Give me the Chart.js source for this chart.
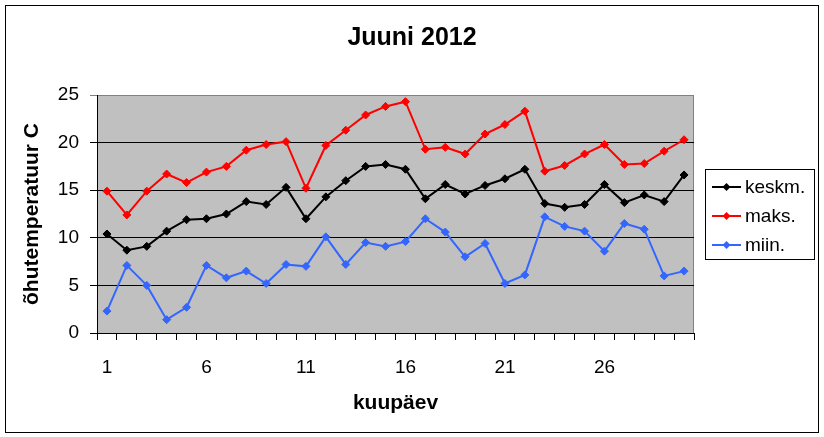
<!DOCTYPE html>
<html>
<head>
<meta charset="utf-8">
<script src="https://cdn.jsdelivr.net/npm/chart.js@4/dist/chart.umd.min.js"></script>
<style>
  body { margin: 0; background: #fff; }
</style>
</head>
<body>
<canvas id="chart" width="824" height="437"></canvas>
<script>
const days = [];
for (let d = 1; d <= 30; d++) days.push(String(d));

const keskm = [10.4, 8.7, 9.1, 10.7, 11.9, 12.0, 12.5, 13.8, 13.5, 15.3, 12.0, 14.3, 16.0, 17.5, 17.7,
  17.2, 14.1, 15.6, 14.6, 15.5, 16.2, 17.2, 13.6, 13.2, 13.5, 15.6, 13.7, 14.5, 13.8, 16.6];
const maks = [14.9, 12.4, 14.9, 16.7, 15.8, 16.9, 17.5, 19.2, 19.8, 20.1, 15.2, 19.7, 21.3, 22.9, 23.8,
  24.3, 19.3, 19.5, 18.8, 20.9, 21.9, 23.3, 17.0, 17.6, 18.8, 19.8, 17.7, 17.8, 19.1, 20.3];
const miin = [2.3, 7.1, 5.0, 1.4, 2.7, 7.1, 5.8, 6.5, 5.2, 7.2, 7.0, 10.1, 7.2, 9.5, 9.1,
  9.6, 12.0, 10.6, 8.0, 9.4, 5.2, 6.1, 12.2, 11.2, 10.7, 8.6, 11.5, 10.9, 6.0, 6.5];

const FONT = "'Liberation Sans', Arial, sans-serif";

function series(label, values, color) {
  return {
    label: label,
    data: values,
    borderColor: color,
    backgroundColor: color,
    borderWidth: 2,
    pointStyle: "rectRot",
    pointRadius: 4,
    pointBorderWidth: 1,
    tension: 0,
  };
}

// grey plot area + frame around the whole picture
const background = {
  id: "background",
  beforeDraw(chart) {
    const ctx = chart.ctx;
    const a = chart.chartArea;
    ctx.save();
    ctx.fillStyle = "#fff";
    ctx.fillRect(0, 0, chart.width, chart.height);
    ctx.strokeStyle = "#000";
    ctx.lineWidth = 1;
    ctx.strokeRect(5.5, 5.5, 813, 427);
    ctx.fillStyle = "#c0c0c0";
    ctx.fillRect(a.left, a.top, a.right - a.left, a.bottom - a.top);
    ctx.strokeStyle = "#808080";
    ctx.strokeRect(a.left + 0.5, a.top + 0.5, a.right - a.left - 1, a.bottom - a.top);
    ctx.restore();
  },
};

// boxed legend like the old spreadsheet one
const boxLegend = {
  id: "boxLegend",
  afterDraw(chart) {
    const ctx = chart.ctx;
    ctx.save();
    ctx.fillStyle = "#fff";
    ctx.fillRect(705, 169, 109, 90);
    ctx.strokeStyle = "#000";
    ctx.lineWidth = 1;
    ctx.strokeRect(705.5, 169.5, 109, 90);
    ctx.font = "19px " + FONT;
    ctx.textBaseline = "middle";
    chart.data.datasets.forEach(function (ds, i) {
      const y = 187 + i * 29;
      ctx.strokeStyle = ds.borderColor;
      ctx.lineWidth = 2;
      ctx.beginPath();
      ctx.moveTo(712, y);
      ctx.lineTo(741, y);
      ctx.stroke();
      ctx.fillStyle = ds.borderColor;
      ctx.beginPath();
      ctx.moveTo(726.5, y - 4);
      ctx.lineTo(730.5, y);
      ctx.lineTo(726.5, y + 4);
      ctx.lineTo(722.5, y);
      ctx.closePath();
      ctx.fill();
      ctx.fillStyle = "#000";
      ctx.fillText(ds.label, 745, y + 1);
    });
    ctx.restore();
  },
};

const config = {
  type: "line",
  data: {
    labels: days,
    datasets: [
      series("keskm.", keskm, "#000000"),
      series("maks.", maks, "#ff0000"),
      series("miin.", miin, "#3366ff"),
    ],
  },
  options: {
    responsive: false,
    animation: false,
    devicePixelRatio: 1,
    layout: { padding: 0 },
    plugins: {
      legend: { display: false },
      tooltip: { enabled: false },
      title: {
        display: true,
        text: "Juuni 2012",
        color: "#000",
        font: { family: FONT, size: 25, weight: "bold" },
        padding: { top: 23, bottom: 42 },
      },
    },
    scales: {
      x: {
        type: "category",
        offset: true,
        grid: {
          offset: true,
          drawOnChartArea: false,
          tickLength: 7,
          color: "#000",
        },
        border: { color: "#000" },
        ticks: {
          autoSkip: false,
          maxRotation: 0,
          padding: 16,
          color: "#000",
          font: { family: FONT, size: 19 },
          callback: function (value, index) {
            return index % 5 === 0 ? this.getLabelForValue(value) : "";
          },
        },
        title: {
          display: true,
          text: "kuupäev",
          color: "#000",
          font: { family: FONT, size: 21, weight: "bold" },
          padding: { top: 0, bottom: 21 },
        },
        afterFit: function (scale) {
          scale.height = 104;
        },
      },
      y: {
        min: 0,
        max: 25,
        grid: {
          tickLength: 7,
          color: function (c) {
            return c.tick && c.tick.value === 25 ? "#808080" : "#000";
          },
        },
        border: { color: "#000" },
        ticks: {
          stepSize: 5,
          padding: 11,
          color: "#000",
          font: { family: FONT, size: 19 },
        },
        title: {
          display: true,
          text: "õhutemperatuur C",
          color: "#000",
          font: { family: FONT, size: 21, weight: "bold" },
          padding: { top: 20, bottom: 0 },
        },
        afterFit: function (scale) {
          scale.width = 97;
        },
      },
      // empty axis that keeps room for the legend on the right
      side: {
        type: "linear",
        position: "right",
        min: 0,
        max: 25,
        grid: { display: false },
        border: { display: false },
        ticks: { display: false },
        afterFit: function (scale) {
          scale.width = 130;
        },
      },
    },
  },
  plugins: [background, boxLegend],
};

new Chart("chart", config);
</script>
</body>
</html>
